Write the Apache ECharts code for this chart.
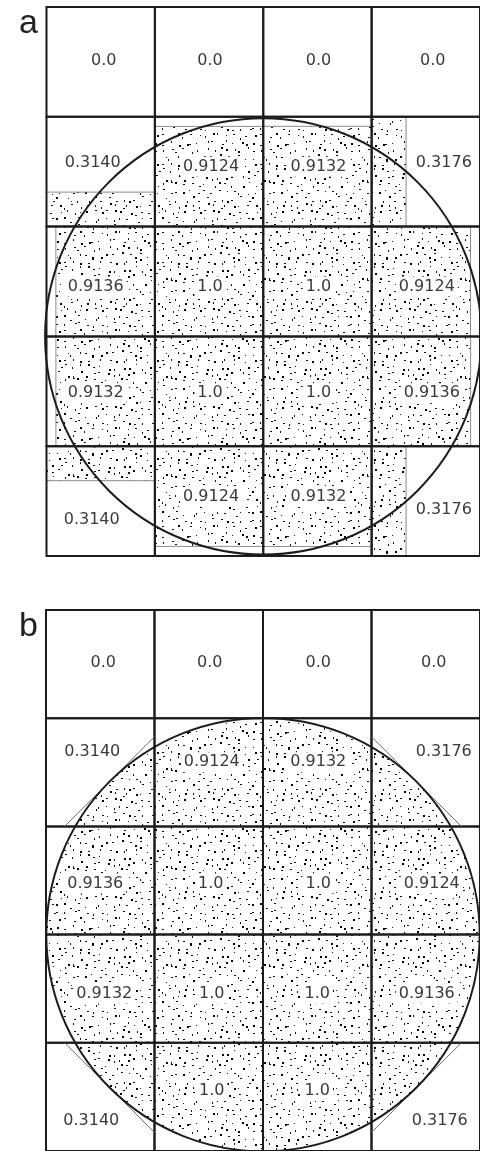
<!DOCTYPE html>
<html><head><meta charset="utf-8">
<script src="https://cdn.jsdelivr.net/npm/echarts@6/dist/echarts.min.js"></script>
<style>html,body{margin:0;padding:0;background:#fff}#chart{width:480px;height:1151px}</style>
</head><body><div id="chart"></div>
<script>
// ================= DATA =================
const panelNames = ['a', 'b'];
const colCount = 4;
const rowCount = 5;
// cell values, row by row (top to bottom), panel a
const valuesA = [
  [0.0, 0.0, 0.0, 0.0],
  [0.3140, 0.9124, 0.9132, 0.3176],
  [0.9136, 1.0, 1.0, 0.9124],
  [0.9132, 1.0, 1.0, 0.9136],
  [0.3140, 0.9124, 0.9132, 0.3176]
];
// cell values, panel b
const valuesB = [
  [0.0, 0.0, 0.0, 0.0],
  [0.3140, 0.9124, 0.9132, 0.3176],
  [0.9136, 1.0, 1.0, 0.9124],
  [0.9132, 1.0, 1.0, 0.9136],
  [0.3140, 1.0, 1.0, 0.3176]
];
// circle in cell units: centre (column, row) and radius
const circleCenter = [2, 3];
const circleRadius = 2;

// ================= LAYOUT / STYLE =================
// pixel nudges of each value label from its cell centre [dx, dy]
const labelNudgeA = [
  [[3, -1], [1, -1], [1, -1], [7, -1]],
  [[-8, -9], [2, -5], [1, -5], [18, -9]],
  [[-5, 5], [1, 5], [1, 5], [1, 5]],
  [[-5, 2], [1, 2], [1, 2], [6, 2]],
  [[-9, 19], [2, -4], [1, -4], [18, 9]]
];
const labelNudgeB = [
  [[3, -1], [1, -1], [1, -1], [8, -1]],
  [[-8, -20], [3, -10], [1, -10], [18, -20]],
  [[-5, 3], [2, 3], [1, 3], [6, 3]],
  [[4, 5], [3, 5], [0, 5], [1, 5]],
  [[-9, 24], [3, -6], [0, -6], [14, 24]]
];
const LINE = '#1c1c1c';
const TEXT = '#3a3a3a';
const FONT = '16px "DejaVu Sans", Verdana, sans-serif';

function fmt(v) {
  if (v === 0) return '0.0';
  if (v === 1) return '1.0';
  return v.toFixed(4);
}

// stipple texture (deterministic jittered grid)
function makeStipple() {
  const size = 98;
  const cv = document.createElement('canvas');
  cv.width = size; cv.height = size;
  const ctx = cv.getContext('2d');
  ctx.fillStyle = '#fff';
  ctx.fillRect(0, 0, size, size);
  let s = 987654321;
  const nxt = () => { s = (s * 1103515245 + 12345) % 2147483648; return s / 2147483648; };
  const step = 7;
  for (let gy = 0; gy < size; gy += step) {
    for (let gx = 0; gx < size; gx += step) {
      const x = Math.floor(gx + nxt() * (step - 1)) % size;
      const y = Math.floor(gy + nxt() * (step - 1)) % size;
      const k = nxt();
      if (k < 0.22) { ctx.fillStyle = '#000'; ctx.fillRect(x, y, 2, 2); }
      else if (k < 0.55) { ctx.fillStyle = '#111'; ctx.fillRect(x, y, 2, 1); }
      else if (k < 0.85) { ctx.fillStyle = '#151515'; ctx.fillRect(x, y, 1, 2); }
      else { ctx.fillStyle = '#222'; ctx.fillRect(x, y, 1, 1); }
    }
  }
  return cv;
}
const stipple = { image: makeStipple(), repeat: 'repeat' };

function cellData(values) {
  const out = [];
  for (let r = 0; r < values.length; r++)
    for (let c = 0; c < values[r].length; c++) out.push([c, r, values[r][c]]);
  return out;
}

function rectFromUnits(api, x0, y0, x1, y1) {
  const p0 = api.coord([x0, y0]);
  const p1 = api.coord([x1, y1]);
  return { x: Math.min(p0[0], p1[0]), y: Math.min(p0[1], p1[1]),
           width: Math.abs(p1[0] - p0[0]), height: Math.abs(p1[1] - p0[1]) };
}

function renderCell(params, api) {
  const c = api.value(0), r = api.value(1);
  return { type: 'rect', shape: rectFromUnits(api, c, r, c + 1, r + 1),
    style: { fill: null, stroke: LINE, lineWidth: 2 } };
}

// panel a: the stippled share of each cell equals its value
function renderPartialFill(params, api) {
  const c = api.value(0), r = api.value(1), v = api.value(2);
  if (!(v > 0)) return null;
  let u;
  if (v >= 1) u = [c, r, c + 1, r + 1];
  else if (c === colCount - 1) u = [c, r, c + v, r + 1];
  else if (r === 1) u = [c, r + 1 - v, c + 1, r + 1];
  else if (r === rowCount - 1) u = [c, r, c + 1, r + v];
  else if (c === 0) u = [c + 1 - v, r, c + 1, r + 1];
  else u = [c, r, c + v, r + 1];
  return { type: 'rect', shape: rectFromUnits(api, u[0], u[1], u[2], u[3]),
    style: { fill: stipple, stroke: '#8c8c8c', lineWidth: 1 } };
}

function makeCircleRenderer(filled, stroked) {
  return function (params, api) {
    const ctr = api.coord([api.value(0), api.value(1)]);
    const rad = api.value(2);
    const sz = api.size([rad, rad]);
    return { type: 'circle', shape: { cx: ctr[0], cy: ctr[1], r: (sz[0] + sz[1]) / 2 },
      style: { fill: filled ? stipple : null, stroke: stroked ? LINE : null, lineWidth: 2 } };
  };
}

// panel b: tangent line at 45 degrees in partially covered corner cells
function renderTangent(params, api) {
  const c = api.value(0), r = api.value(1), v = api.value(2);
  if (!(v > 0 && v < 0.5)) return null;
  const sx = Math.sign(c + 0.5 - circleCenter[0]);
  const sy = Math.sign(r + 0.5 - circleCenter[1]);
  const tx = circleCenter[0] + circleRadius * sx / Math.SQRT2;
  const ty = circleCenter[1] + circleRadius * sy / Math.SQRT2;
  const dx = -sy, dy = sx;
  let t0 = -Infinity, t1 = Infinity;
  [[tx, dx, c, c + 1], [ty, dy, r, r + 1]].forEach(function (a) {
    const ta = (a[2] - a[0]) / a[1], tb = (a[3] - a[0]) / a[1];
    t0 = Math.max(t0, Math.min(ta, tb)); t1 = Math.min(t1, Math.max(ta, tb));
  });
  const p0 = api.coord([tx + dx * t0, ty + dy * t0]);
  const p1 = api.coord([tx + dx * t1, ty + dy * t1]);
  return { type: 'line', shape: { x1: p0[0], y1: p0[1], x2: p1[0], y2: p1[1] },
    style: { stroke: '#6e6e6e', lineWidth: 1 } };
}

function makeLabelRenderer(nudge) {
  return function (params, api) {
    const c = api.value(0), r = api.value(1), v = api.value(2);
    const p = api.coord([c + 0.5, r + 0.5]);
    const n = nudge[r][c];
    return { type: 'text', x: p[0] + n[0], y: p[1] + n[1],
      style: { text: fmt(v), fill: TEXT, font: FONT, align: 'center', verticalAlign: 'middle',
               backgroundColor: '#fff', padding: [2, 3] } };
  };
}

const grids = [
  { left: 46.5, top: 7, width: 438, height: 549 },
  { left: 46, top: 610, width: 438, height: 544 }
];
const xAxes = grids.map(function (g, i) {
  return { type: 'value', gridIndex: i, min: 0, max: colCount, show: false };
});
const yAxes = grids.map(function (g, i) {
  return { type: 'value', gridIndex: i, min: 0, max: rowCount, inverse: true, show: false };
});

const dataA = cellData(valuesA);
const dataB = cellData(valuesB);
const circleItem = [[circleCenter[0], circleCenter[1], circleRadius]];

const series = [
  // panel a
  { type: 'custom', xAxisIndex: 0, yAxisIndex: 0, z: 1, data: dataA, renderItem: renderPartialFill, silent: true },
  { type: 'custom', xAxisIndex: 0, yAxisIndex: 0, z: 2, data: dataA, renderItem: renderCell, silent: true },
  { type: 'custom', xAxisIndex: 0, yAxisIndex: 0, z: 3, data: dataA, renderItem: makeLabelRenderer(labelNudgeA), silent: true },
  { type: 'custom', xAxisIndex: 0, yAxisIndex: 0, z: 4, data: circleItem, renderItem: makeCircleRenderer(false, true), silent: true },
  // panel b
  { type: 'custom', xAxisIndex: 1, yAxisIndex: 1, z: 1, data: circleItem, renderItem: makeCircleRenderer(true, false), silent: true },
  { type: 'custom', xAxisIndex: 1, yAxisIndex: 1, z: 2, data: dataB, renderItem: renderCell, silent: true },
  { type: 'custom', xAxisIndex: 1, yAxisIndex: 1, z: 3, data: dataB, renderItem: renderTangent, silent: true },
  { type: 'custom', xAxisIndex: 1, yAxisIndex: 1, z: 4, data: dataB, renderItem: makeLabelRenderer(labelNudgeB), silent: true },
  { type: 'custom', xAxisIndex: 1, yAxisIndex: 1, z: 5, data: circleItem, renderItem: makeCircleRenderer(false, true), silent: true }
];

const chart = echarts.init(document.getElementById('chart'), null, { renderer: 'canvas' });
chart.setOption({
  animation: false,
  backgroundColor: '#fff',
  title: panelNames.map(function (name, i) {
    return { text: name, left: 14, top: i === 0 ? 2 : 605,
      textStyle: { fontSize: 34, fontWeight: 'normal', color: '#222', fontFamily: '"Liberation Sans", Arial, sans-serif' } };
  }),
  grid: grids,
  xAxis: xAxes,
  yAxis: yAxes,
  series: series
});
</script></body></html>
